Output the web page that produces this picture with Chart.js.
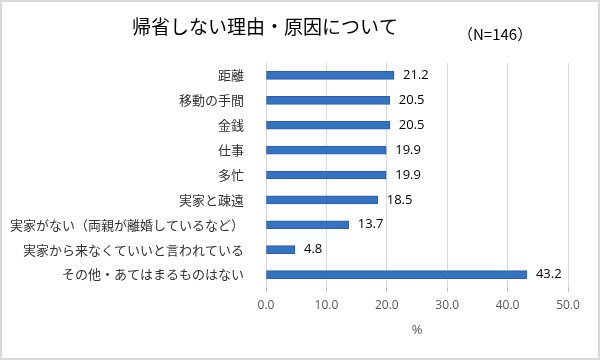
<!DOCTYPE html>
<html><head><meta charset="utf-8">
<script src="https://cdn.jsdelivr.net/npm/chart.js@4"></script>
<style>
html,body{margin:0;padding:0;background:#fff;}
#wrap{position:relative;width:600px;height:360px;box-sizing:border-box;border:2px solid #d9d9d9;}
canvas{position:absolute;left:-2px;top:-2px;}
</style></head>
<body><div id="wrap"><canvas id="c" width="600" height="360"></canvas></div>
<script>
const titleText = "帰省しない理由・原因について";
const subTitleText = "（N=146）";
const categories = ["距離","移動の手間","金銭","仕事","多忙","実家と疎遠","実家がない（両親が離婚しているなど）","実家から来なくていいと言われている","その他・あてはまるものはない"];
const values = [21.2,20.5,20.5,19.9,19.9,18.5,13.7,4.8,43.2];
const axisTitle = "%";

const jp = '"Noto Sans CJK JP", sans-serif';
const num = '"Open Sans", "Noto Sans", sans-serif';

const titlePlugin = {
  id:'titles',
  afterDraw(chart){
    const ctx = chart.ctx;
    ctx.save();
    ctx.fillStyle = '#000';
    ctx.textBaseline = 'middle';
    ctx.textAlign = 'left';
    ctx.font = '19px ' + jp;
    ctx.fillText(titleText, 132, 27);
    ctx.font = '15px ' + jp;
    ctx.fillText(subTitleText, 458, 34);
    ctx.restore();
  }
};
const labelPlugin = {
  id:'vals',
  afterDatasetsDraw(chart){
    const ctx = chart.ctx;
    const meta = chart.getDatasetMeta(0);
    ctx.save();
    ctx.fillStyle = '#000';
    ctx.font = '13px ' + num;
    ctx.textBaseline = 'middle';
    ctx.textAlign = 'left';
    meta.data.forEach((bar,i)=>{
      ctx.fillText(values[i].toFixed(1), bar.x + 9, bar.y);
    });
    ctx.restore();
  }
};

new Chart(document.getElementById('c'), {
  type:'bar',
  data:{labels:categories, datasets:[{data:values, backgroundColor:'#3572c0', borderColor:'#2a5ea8', borderWidth:1, barThickness:8, borderSkipped:false}]},
  options:{
    indexAxis:'y',
    responsive:false,
    animation:false,
    layout:{padding:{top:63,right:32,left:0,bottom:22}},
    plugins:{legend:{display:false},tooltip:{enabled:false}},
    scales:{
      x:{min:0,max:50,
        ticks:{stepSize:10,color:'#595959',font:{family:num,size:12},padding:6,callback:v=>v.toFixed(1)},
        grid:{color:'#d9d9d9',tickColor:'#bfbfbf',tickLength:5,drawTicks:true},
        border:{display:false},
        title:{display:true,text:axisTitle,color:'#595959',font:{family:num,size:13},padding:{top:4,bottom:0}}
      },
      y:{
        afterFit(s){s.width=266;},
        ticks:{color:'#333',font:{family:jp,size:13},padding:14},
        grid:{display:false},
        border:{display:false}
      }
    }
  },
  plugins:[titlePlugin,labelPlugin]
});
</script></body></html>
